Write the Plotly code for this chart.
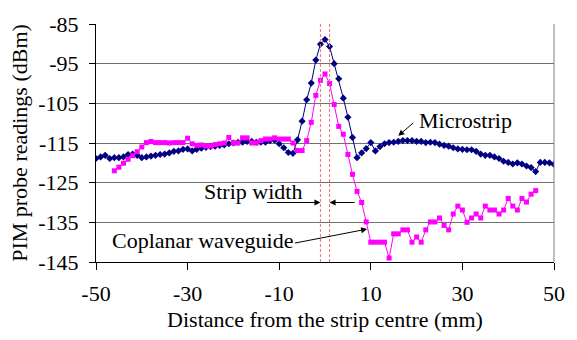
import plotly.graph_objects as go

x_micro = list(range(-50, 51))
y_micro = [
    -118.9, -118.5, -118.1, -118.9, -118.7, -118.7, -118.5, -117.9, -117.8, -118.1,
    -118.7, -118.5, -118.3, -118.1, -117.9, -117.8, -117.5, -117.1, -117.0, -116.6,
    -116.5, -117.0, -116.6, -116.3, -116.1, -115.9, -115.8, -115.6, -115.5, -115.2,
    -115.0, -114.8, -114.8, -114.6, -114.6, -114.8, -114.8, -114.8, -114.4, -114.3,
    -115.2, -116.2, -117.4, -117.6, -114.2, -109.5, -104.1, -99.9, -94.1, -90.1,
    -88.9,
    -90.7, -95.0, -98.8, -103.7, -108.5, -113.6, -118.7, -117.5, -116.4, -114.9,
    -117.0, -115.9, -115.2, -114.9, -114.8, -114.6, -114.4, -114.4, -114.4, -114.6,
    -114.6, -114.9, -114.8, -114.9, -115.3, -115.6, -115.8, -116.2, -116.5, -116.6,
    -116.7, -116.7, -117.1, -117.8, -118.1, -118.1, -118.5, -118.9, -119.6, -119.9,
    -120.3, -120.0, -120.3, -120.8, -121.2, -122.2, -119.9, -119.9, -120.0, -120.4,
]

x_cpw = list(range(-46, 47))
y_cpw = [
    -122.0, -121.1, -120.1, -119.1, -118.2, -117.2, -116.0, -114.9, -114.6, -114.9,
    -114.9, -114.9, -115.0, -114.9, -114.9, -114.9, -113.8, -115.2, -115.6, -115.5,
    -115.8, -115.8, -115.4, -115.2, -115.0, -113.6, -115.0, -115.0, -113.7, -113.7,
    -115.0, -115.0, -114.4, -114.0, -114.0, -113.7, -114.0, -114.0, -114.0, -115.0,
    -116.9, -116.9, -114.4, -109.8, -103.0, -99.2, -97.6, -100.0, -105.3, -110.8,
    -112.8, -117.9, -122.9, -127.2, -130.0, -134.9, -140.0, -140.0, -140.0, -140.0,
    -144.0, -137.9, -137.9, -136.9, -136.9, -140.0, -138.7, -140.0, -136.9, -134.9,
    -134.9, -133.9, -135.8, -136.9, -132.9, -130.9, -131.9, -135.0, -133.9, -132.9,
    -133.9, -130.9, -131.9, -131.9, -132.9, -131.9, -129.0, -130.9, -131.9, -129.0,
    -129.9, -127.9, -127.0,
]

strip_edges = [-1.0, 1.0]
x_ticks = [-50, -30, -10, 10, 30, 50]
y_ticks = [-85, -95, -105, -115, -125, -135, -145]

FONT = "Liberation Serif, Times New Roman, serif"
FS = 22

fig = go.Figure()
fig.add_trace(go.Scatter(
    x=x_micro, y=y_micro, mode="lines+markers",
    line=dict(color="#000080", width=1),
    marker=dict(symbol="diamond", size=5.5, color="#000080"),
    name="Microstrip", showlegend=False))
fig.add_trace(go.Scatter(
    x=x_cpw, y=y_cpw, mode="lines+markers",
    line=dict(color="#FF00FF", width=1),
    marker=dict(symbol="square", size=5, color="#FF00FF"),
    name="Coplanar waveguide", showlegend=False))

for xe in strip_edges:
    fig.add_vline(x=xe, line=dict(color="#F07070", width=1, dash="3px,2px"))

# right border
fig.add_shape(type="line", xref="paper", yref="paper", x0=1, x1=1, y0=0, y1=1,
              line=dict(color="#808080", width=1))

ann_font = dict(family=FONT, size=FS, color="black")
fig.add_annotation(x=30.6, y=-109.4, text="Microstrip", showarrow=False, font=ann_font)
fig.add_annotation(x=16.0, y=-113.2, ax=19.6, ay=-109.6, axref="x", ayref="y",
                   text="", showarrow=True, arrowhead=2, arrowsize=1.2, arrowwidth=1,
                   arrowcolor="black")
fig.add_annotation(x=-15.7, y=-127.2, text="Strip width", showarrow=False, font=ann_font)
fig.add_annotation(x=-1.0, y=-130.0, ax=-13.0, ay=-130.0, axref="x", ayref="y",
                   text="", showarrow=True, arrowhead=2, arrowsize=1.2, arrowwidth=1,
                   arrowcolor="black")
fig.add_annotation(x=1.0, y=-130.0, ax=6.8, ay=-130.0, axref="x", ayref="y",
                   text="", showarrow=True, arrowhead=2, arrowsize=1.2, arrowwidth=1,
                   arrowcolor="black")
fig.add_annotation(x=-26.8, y=-139.7, text="Coplanar waveguide", showarrow=False, font=ann_font)
fig.add_annotation(x=9.2, y=-136.7, ax=-6.9, ay=-140.3, axref="x", ayref="y",
                   text="", showarrow=True, arrowhead=2, arrowsize=1.2, arrowwidth=1,
                   arrowcolor="black")

fig.update_layout(
    width=577, height=340,
    margin=dict(l=96, r=19, t=16, b=71),
    paper_bgcolor="white", plot_bgcolor="white",
    font=dict(family=FONT, size=FS, color="black"),
)
fig.update_xaxes(
    range=[-50, 50], tickvals=x_ticks, ticktext=[str(v) for v in x_ticks],
    showgrid=False, zeroline=False,
    showline=True, linecolor="black", linewidth=1,
    ticks="outside", ticklen=7, tickcolor="black", ticklabelstandoff=5,
    title=dict(text="Distance from the strip centre (mm)", standoff=6,
               font=dict(family=FONT, size=FS)),
    tickfont=dict(family=FONT, size=FS),
)
fig.update_yaxes(
    range=[-145, -85], tickvals=y_ticks, ticktext=[str(v) for v in y_ticks],
    showgrid=True, gridcolor="#707070", gridwidth=1, zeroline=False,
    showline=True, linecolor="black", linewidth=1,
    ticks="outside", ticklen=6, tickcolor="black", ticklabelstandoff=6,
    title=dict(text="PIM probe readings (dBm)", standoff=4,
               font=dict(family=FONT, size=FS)),
    tickfont=dict(family=FONT, size=FS),
)

fig.write_html("out.html")
